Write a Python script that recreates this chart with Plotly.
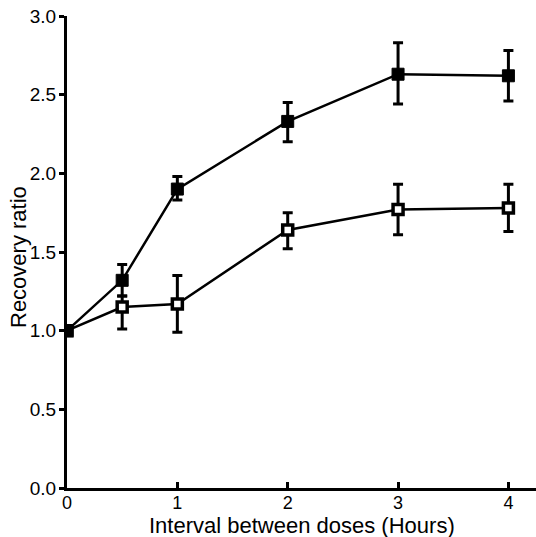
import plotly.graph_objects as go

x_vals = [0, 0.5, 1, 2, 3, 4]
filled_y = [1.0, 1.32, 1.90, 2.33, 2.63, 2.62]
filled_hi = [1.0, 1.42, 1.98, 2.45, 2.83, 2.78]
filled_lo = [1.0, 1.22, 1.83, 2.20, 2.44, 2.46]
open_y = [1.0, 1.15, 1.17, 1.64, 1.77, 1.78]
open_hi = [1.0, 1.22, 1.35, 1.75, 1.93, 1.93]
open_lo = [1.0, 1.01, 0.99, 1.52, 1.61, 1.63]

x_ticks = [0, 1, 2, 3, 4]
y_ticks = [0.0, 0.5, 1.0, 1.5, 2.0, 2.5, 3.0]

def err(y, hi, lo):
    plus = [h - v for h, v in zip(hi, y)]
    minus = [v - l for v, l in zip(y, lo)]
    return dict(type="data", array=plus, arrayminus=minus, color="black",
                thickness=3, width=5, visible=True)

fig = go.Figure()
fig.add_trace(go.Scatter(
    x=x_vals, y=open_y, mode="lines+markers",
    line=dict(color="black", width=2.5),
    marker=dict(symbol="square", size=10, color="white",
                line=dict(color="black", width=3.5)),
    error_y=err(open_y, open_hi, open_lo), showlegend=False))
fig.add_trace(go.Scatter(
    x=x_vals, y=filled_y, mode="lines+markers",
    line=dict(color="black", width=2.5),
    marker=dict(symbol="square", size=12, color="black",
                line=dict(color="black", width=1)),
    error_y=err(filled_y, filled_hi, filled_lo), showlegend=False))

font = "Liberation Sans, Arial, sans-serif"
fig.update_layout(
    width=536, height=537,
    margin=dict(l=67, r=0, t=16, b=49),
    paper_bgcolor="white", plot_bgcolor="white",
    font=dict(family=font, color="black", size=19),
    xaxis=dict(range=[0, 4.25], tickvals=x_ticks, ticktext=[str(t) for t in x_ticks],
               ticks="inside", ticklen=6, tickwidth=2.5, tickcolor="black",
               showline=True, linecolor="black", linewidth=3,
               showgrid=False, zeroline=False, ticklabelstandoff=-4,
               tickfont=dict(size=18)),
    yaxis=dict(range=[0, 3.0], tickvals=y_ticks, ticktext=[f"{t:.1f}" for t in y_ticks],
               ticks="outside", ticklen=5, tickwidth=2.5, tickcolor="black",
               showline=True, linecolor="black", linewidth=3,
               showgrid=False, zeroline=False, ticklabelstandoff=-1,
               tickfont=dict(size=19)),
    annotations=[
        dict(text="Interval between doses (Hours)", xref="paper", yref="paper",
             x=(302 - 67) / 469, y=(488 - 525) / 472, xanchor="center", yanchor="middle",
             showarrow=False, font=dict(size=22)),
        dict(text="Recovery ratio", xref="paper", yref="paper", textangle=-90,
             x=(18 - 67) / 469, y=(488 - 257) / 472, xanchor="center", yanchor="middle",
             showarrow=False, font=dict(size=22)),
    ],
)

fig.write_html("out.html")
